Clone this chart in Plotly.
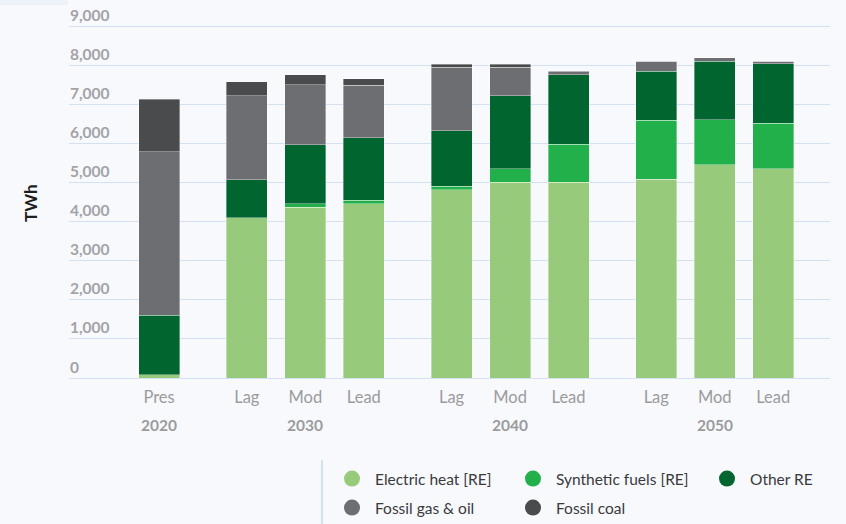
import plotly.graph_objects as go

# Scenario columns (numeric slots leave gaps between decades)
positions = [0, 1.5, 2.5, 3.5, 5, 6, 7, 8.5, 9.5, 10.5]
scenario_labels = ["Pres", "Lag", "Mod", "Lead", "Lag", "Mod", "Lead", "Lag", "Mod", "Lead"]
year_labels = ["2020", "2030", "2040", "2050"]
year_positions = [0, 2.5, 6, 9.5]

# Heat supply by source, TWh
electric_heat = [84, 4100, 4370, 4450, 4810, 5000, 5000, 5080, 5450, 5350]
synthetic_fuels = [0, 0, 85, 95, 95, 350, 980, 1515, 1150, 1165]
other_re = [1525, 965, 1515, 1600, 1420, 1865, 1770, 1245, 1505, 1515]
fossil_gas_oil = [4180, 2155, 1525, 1345, 1620, 735, 80, 265, 85, 75]
fossil_coal = [1340, 355, 255, 160, 75, 75, 15, 0, 0, 0]

series = [
    ("Electric heat [RE]", electric_heat, "#97cb7b"),
    ("Synthetic fuels [RE]", synthetic_fuels, "#22b04b"),
    ("Other RE", other_re, "#00652f"),
    ("Fossil gas & oil", fossil_gas_oil, "#6d6e71"),
    ("Fossil coal", fossil_coal, "#4a4b4d"),
]

y_ticks = list(range(0, 9001, 1000))

BG = "#f7f9fc"
GRID = "#d3e1f3"
FONT = "Lato"

# plot-area pixel geometry; 0 TWh sits at y=378, 9,000 TWh at y=26
W, H = 846, 524
L, R, T, B = 69, 16, 4, 146
PW, PH = W - L - R, H - T - B
PX_PER_TWH = (378 - 26) / 9000
Y_TOP = (378 - T) / PX_PER_TWH


def px_x(p):
    return (p - L) / PW


def px_y(p):
    return (H - B - p) / PH


fig = go.Figure()

for name, vals, color in series:
    fig.add_trace(go.Bar(
        x=positions, y=vals, name=name, width=0.7,
        marker=dict(color=color, line=dict(color="rgba(255,255,255,0.45)", width=0.8)),
        showlegend=False, hovertemplate="%{y:,} TWh<extra>" + name + "</extra>",
    ))

# legend entries: two rows, three columns
legend_slots = [(352, 479), (533, 479), (727, 479), (352, 508), (533, 508)]
legend_layouts = {}
for i, ((name, vals, color), (cx, cy)) in enumerate(zip(series, legend_slots)):
    key = "legend" if i == 0 else f"legend{i + 1}"
    fig.add_trace(go.Scatter(
        x=[None], y=[None], mode="markers", name=name,
        marker=dict(symbol="circle", size=17, color=color),
        legend=key, showlegend=True,
    ))
    legend_layouts[key] = dict(
        x=px_x(cx - 23), y=px_y(cy), xanchor="left", yanchor="middle",
        bgcolor="rgba(0,0,0,0)", borderwidth=0, itemwidth=36,
        font=dict(family=FONT, size=15.5, color="#3a3a3c"),
    )

annotations = [
    dict(x=xp, y=px_y(425), xref="x", yref="paper", text=f"<b>{yr}</b>",
         showarrow=False, font=dict(family=FONT, size=15.5, color="#9b9b9e"),
         xanchor="center", yanchor="middle")
    for yr, xp in zip(year_labels, year_positions)
]
annotations.append(dict(
    x=px_x(30), y=px_y(203), xref="paper", yref="paper", text="<b>TWh</b>",
    textangle=-90, showarrow=False, font=dict(family=FONT, size=17, color="#1f1f1f"),
    xanchor="center", yanchor="middle",
))

fig.update_layout(
    barmode="stack",
    width=W, height=H,
    margin=dict(l=L, r=R, t=T, b=B, autoexpand=False),
    paper_bgcolor=BG, plot_bgcolor=BG,
    font=dict(family=FONT),
    annotations=annotations,
    shapes=[
        dict(type="line", xref="paper", yref="paper",
             x0=px_x(322), x1=px_x(322), y0=px_y(460), y1=px_y(524),
             line=dict(color=GRID, width=2)),
        dict(type="rect", xref="paper", yref="paper",
             x0=px_x(0), x1=px_x(68), y0=px_y(0), y1=px_y(5),
             fillcolor="#edf2f9", line=dict(width=0), layer="below"),
    ],
    xaxis=dict(
        range=[-1.54, 11.47], tickvals=positions, ticktext=scenario_labels,
        showgrid=False, zeroline=False, showline=False, ticks="",
        ticklabelstandoff=7,
        tickfont=dict(family=FONT, size=16.5, color="#9b9b9e"),
        fixedrange=True,
    ),
    yaxis=dict(
        range=[0, Y_TOP], tickvals=y_ticks, tickformat=",",
        ticklabelposition="inside top", ticklabelstandoff=-2,
        showgrid=True, gridcolor=GRID, gridwidth=1.3,
        zeroline=True, zerolinecolor=GRID, zerolinewidth=1.3,
        showline=False, ticks="",
        tickfont=dict(family=FONT, size=15.5, color="#a3a3a8", weight="bold"),
        fixedrange=True,
    ),
    **legend_layouts,
)

fig.write_html("out.html")
